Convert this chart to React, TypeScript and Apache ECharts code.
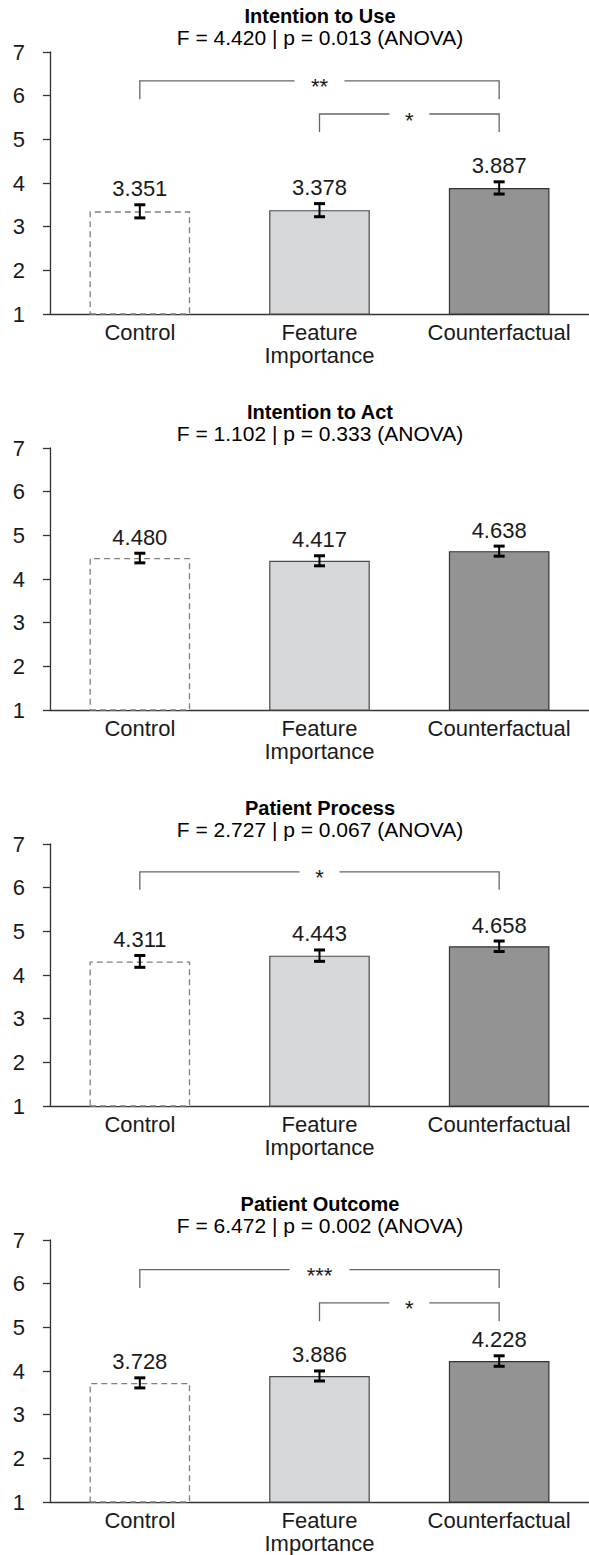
import React, { useEffect, useRef } from "react";
import * as echarts from "echarts";

const categories = ["Control", "Feature\nImportance", "Counterfactual"];

const panelTitles = ["Intention to Use", "Intention to Act", "Patient Process", "Patient Outcome"];
const panelStats = [
  "F = 4.420 | p = 0.013 (ANOVA)",
  "F = 1.102 | p = 0.333 (ANOVA)",
  "F = 2.727 | p = 0.067 (ANOVA)",
  "F = 6.472 | p = 0.002 (ANOVA)",
];

const useMeans = [3.351, 3.378, 3.887];
const useErrors = [0.15, 0.15, 0.14];
const actMeans = [4.48, 4.417, 4.638];
const actErrors = [0.11, 0.115, 0.115];
const processMeans = [4.311, 4.443, 4.658];
const processErrors = [0.135, 0.13, 0.12];
const outcomeMeans = [3.728, 3.886, 4.228];
const outcomeErrors = [0.115, 0.115, 0.12];

// significance brackets: [fromCategory, toCategory, lineLevel, legEndLevel]
const useBrackets = [
  [0, 2, 6.34, 5.92],
  [1, 2, 5.58, 5.17],
];
const useStars = ["**", "*"];
const actBrackets: number[][] = [];
const actStars: string[] = [];
const processBrackets = [[0, 2, 6.36, 5.95]];
const processStars = ["*"];
const outcomeBrackets = [
  [0, 2, 6.32, 5.9],
  [1, 2, 5.56, 5.14],
];
const outcomeStars = ["***", "*"];

const yTicks = [1, 2, 3, 4, 5, 6, 7];

const panels = [
  { means: useMeans, errors: useErrors, brackets: useBrackets, stars: useStars },
  { means: actMeans, errors: actErrors, brackets: actBrackets, stars: actStars },
  { means: processMeans, errors: processErrors, brackets: processBrackets, stars: processStars },
  { means: outcomeMeans, errors: outcomeErrors, brackets: outcomeBrackets, stars: outcomeStars },
];

const FONT = "'Liberation Sans', Arial, Helvetica, sans-serif";
const FS = 22;
const PANEL_H = 396;
const GRID_TOP = 52;
const GRID_H = 262;
const GRID_LEFT = 50;

const barStyles = [
  { color: "#ffffff", borderColor: "#7f7f7f", borderWidth: 1.3, borderType: [6, 4] },
  { color: "#d6d7d9", borderColor: "#4a4a4a", borderWidth: 1.2, borderType: "solid" },
  { color: "#939393", borderColor: "#333333", borderWidth: 1.2, borderType: "solid" },
];

export default function App() {
  const ref = useRef<HTMLDivElement>(null);

  useEffect(() => {
    document.body.style.margin = "0";
    if (!ref.current) return;
    const chart = echarts.init(ref.current, undefined, { renderer: "svg" });

    const grids: any[] = [];
    const xAxes: any[] = [];
    const yAxes: any[] = [];
    const series: any[] = [];
    const graphics: any[] = [];

    panels.forEach((p, i) => {
      const top = GRID_TOP + PANEL_H * i;
      grids.push({ left: GRID_LEFT, right: 0, top, height: GRID_H, containLabel: false });
      xAxes.push({
        type: "category",
        gridIndex: i,
        data: categories,
        axisLine: { show: true, lineStyle: { color: "#333333", width: 1.3 } },
        axisTick: { show: false },
        axisLabel: {
          fontSize: FS,
          fontFamily: FONT,
          color: "#1a1a1a",
          lineHeight: 23,
          margin: 7,
          interval: 0,
        },
      });
      yAxes.push({
        type: "value",
        gridIndex: i,
        min: 1,
        max: 7,
        interval: 1,
        axisLine: { show: true, lineStyle: { color: "#333333", width: 1.3 } },
        axisTick: { show: true, length: 7, lineStyle: { color: "#333333", width: 1.3 } },
        splitLine: { show: false },
        axisLabel: {
          fontSize: FS,
          fontFamily: FONT,
          color: "#1a1a1a",
          margin: 25,
          formatter: (v: number) => (yTicks.includes(v) ? String(v) : ""),
        },
      });

      series.push({
        type: "bar",
        xAxisIndex: i,
        yAxisIndex: i,
        barWidth: "56%",
        clip: true,
        data: p.means.map((m, k) => ({ value: m, itemStyle: barStyles[k] })),
        z: 2,
      });

      series.push({
        type: "custom",
        xAxisIndex: i,
        yAxisIndex: i,
        z: 4,
        encode: { x: 0, y: 1 },
        data: p.means.map((m, k) => [k, m, p.errors[k]]),
        renderItem: (params: any, api: any) => {
          const x = api.value(0);
          const m = api.value(1);
          const e = api.value(2);
          const t = api.coord([x, m + e]);
          const b = api.coord([x, m - e]);
          const hw = 5.5;
          return {
            type: "group",
            children: [
              { type: "line", shape: { x1: t[0], y1: t[1], x2: b[0], y2: b[1] }, style: { stroke: "#000", lineWidth: 2 } },
              { type: "line", shape: { x1: t[0] - hw, y1: t[1], x2: t[0] + hw, y2: t[1] }, style: { stroke: "#000", lineWidth: 3 } },
              { type: "line", shape: { x1: b[0] - hw, y1: b[1], x2: b[0] + hw, y2: b[1] }, style: { stroke: "#000", lineWidth: 3 } },
              {
                type: "text",
                x: t[0],
                y: t[1] - 5,
                style: {
                  text: m.toFixed(3),
                  align: "center",
                  verticalAlign: "bottom",
                  fontSize: FS,
                  fontFamily: FONT,
                  fill: "#1a1a1a",
                },
              },
            ],
          };
        },
      });

      if (p.brackets.length) {
        series.push({
          type: "custom",
          xAxisIndex: i,
          yAxisIndex: i,
          z: 4,
          clip: false,
          data: p.brackets,
          renderItem: (params: any, api: any) => {
            const from = api.value(0);
            const to = api.value(1);
            const lvl = api.value(2);
            const leg = api.value(3);
            const stars = p.stars[params.dataIndex];
            const l = api.coord([from, lvl]);
            const r = api.coord([to, lvl]);
            const lb = api.coord([from, leg]);
            const rb = api.coord([to, leg]);
            const mid = (l[0] + r[0]) / 2;
            const half = (30 + 10 * stars.length) / 2;
            const st = { stroke: "#666666", lineWidth: 1.3, fill: "none" };
            return {
              type: "group",
              children: [
                { type: "polyline", shape: { points: [[lb[0], lb[1]], [l[0], l[1]], [mid - half, l[1]]] }, style: st },
                { type: "polyline", shape: { points: [[rb[0], rb[1]], [r[0], r[1]], [mid + half, r[1]]] }, style: st },
                {
                  type: "text",
                  x: mid,
                  y: l[1] + 6,
                  style: {
                    text: stars,
                    align: "center",
                    verticalAlign: "middle",
                    fontSize: FS,
                    fontFamily: FONT,
                    fill: "#1a1a1a",
                  },
                },
              ],
            };
          },
        });
      }

      graphics.push({
        type: "text",
        x: 320,
        y: 15.5 + PANEL_H * i,
        style: {
          text: panelTitles[i],
          align: "center",
          verticalAlign: "middle",
          fontSize: 20,
          fontWeight: "bold",
          fontFamily: FONT,
          fill: "#000",
        },
      });
      graphics.push({
        type: "text",
        x: 320,
        y: 37.5 + PANEL_H * i,
        style: {
          text: panelStats[i],
          align: "center",
          verticalAlign: "middle",
          fontSize: 21,
          fontFamily: FONT,
          fill: "#000",
        },
      });
    });

    chart.setOption({
      animation: false,
      backgroundColor: "#ffffff",
      grid: grids,
      xAxis: xAxes,
      yAxis: yAxes,
      series,
      graphic: graphics,
    });

    return () => chart.dispose();
  }, []);

  return <div ref={ref} style={{ width: 589, height: 1555 }} />;
}
